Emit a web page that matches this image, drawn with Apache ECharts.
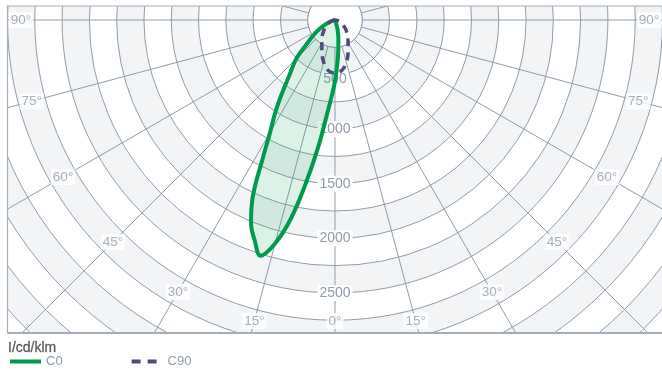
<!DOCTYPE html>
<html><head><meta charset="utf-8">
<script src="https://cdn.jsdelivr.net/npm/echarts@6/dist/echarts.min.js"></script>
<style>html,body{margin:0;padding:0;background:#fff}#c{width:662px;height:372px}</style>
</head><body><div id="c"></div>
<script>
// gamma angle in degrees from nadir; negative = left side
const c0Angles = [25,20,15,10,5,0,-2.5,-5,-7.5,-10,-12.5,-15,-17.5,-20,-22.5,-25,-27.5,-30,-32.5,-35,-40,-45,-50,-55,-60,-65,-70,-80,-90];
const c0Values = [0,20,90,180,320,560,700,880,1170,1500,1860,2120,2264,2150,2010,1780,1440,1190,1030,880,640,500,330,240,165,100,50,10,0];
const c90Angles = [-90,-80,-70,-60,-55,-50,-45,-40,-35,-30,-25,-20,-15,-10,-5,0,5,10,15,20,25,30,35,40,45,50,55,60,70,80,90];
const c90Values = [0,15,45,80,100,125,150,180,205,240,285,345,400,450,478,485,478,450,400,345,285,240,205,180,150,125,100,80,45,15,0];
const radiusLabels = [500,1000,1500,2000,2500];
const angleLabels = [-90,-75,-60,-45,-30,-15,0,15,30,45,60,75,90];

const FONT = 'Liberation Sans, Arial, sans-serif';
const GRID = '#8f9cab';
const TXT = '#8f9cab';
const CX = 335, CY = 20;
const R3000 = 327.5;            // px for 3000 cd/klm
const PX = R3000 / 3000;
const RMAX = 4500;
const STEP = 250;

const labelData = angleLabels.map(a => {
  const rad = a * Math.PI / 180;
  let rPx = 314;
  const maxDy = 301;
  if (rPx * Math.cos(rad) > maxDy) rPx = maxDy / Math.cos(rad);
  return { name: Math.abs(a) + '°', value: [rPx / PX, a] };
});

const chart = echarts.init(document.getElementById('c'));
const angleBase = { type: 'value', min: 0, max: 360, startAngle: 270, clockwise: false,
  axisLine: { show: false }, axisTick: { show: false }, axisLabel: { show: false } };
chart.setOption({
  animation: false,
  textStyle: { fontFamily: FONT },
  polar: [
    { center: [CX, CY], radius: RMAX * PX },
    { center: [CX, CY], radius: RMAX * PX },
    { center: [CX, CY], radius: STEP * PX }
  ],
  angleAxis: [
    Object.assign({}, angleBase, { polarIndex: 0, interval: 15, splitLine: { show: false }, z: 0 }),
    Object.assign({}, angleBase, { polarIndex: 1, interval: 15, z: 1,
      splitLine: { show: true, lineStyle: { color: GRID, width: 1 } } }),
    Object.assign({}, angleBase, { polarIndex: 2, interval: 15, z: 2,
      axisLine: { show: true, lineStyle: { color: GRID, width: 1 } },
      splitLine: { show: false },
      splitArea: { show: true, areaStyle: { color: ['#ffffff'] } } })
  ],
  radiusAxis: [
    { polarIndex: 0, type: 'value', min: 0, max: RMAX, interval: STEP, z: 0,
      axisLine: { show: false }, axisTick: { show: false }, axisLabel: { show: false },
      splitLine: { show: false },
      splitArea: { show: true, areaStyle: { color: ['#ffffff', '#f2f4f6'] } } },
    { polarIndex: 1, type: 'value', min: 0, max: RMAX, interval: STEP, z: 1,
      axisLine: { show: false }, axisTick: { show: false },
      splitLine: { show: true, lineStyle: { color: GRID, width: 1 } },
      splitArea: { show: false },
      axisLabel: { show: true, margin: 0, align: 'center', verticalAlign: 'middle',
        formatter: v => !radiusLabels.includes(v) ? '' :
          (v === radiusLabels[0] ? '{e| }\n{b|' + v + '}' : '{b|' + v + '}'),
        rich: { b: { backgroundColor: '#ffffff', padding: [1, 2], color: TXT, fontSize: 14, fontFamily: FONT },
                e: { fontSize: 1, lineHeight: 10 } } } },
    { polarIndex: 2, type: 'value', min: 0, max: STEP, z: 2,
      axisLine: { show: false }, axisTick: { show: false }, axisLabel: { show: false },
      splitLine: { show: false } }
  ],
  title: { text: 'I/cd/klm', left: 8, top: 341, padding: 0, z: 200,
    textStyle: { fontSize: 14, fontWeight: 'normal', color: '#555', fontFamily: FONT,
      textBorderColor: '#777', textBorderWidth: 0.3 } },
  legend: { data: [{ name: 'C0' }, { name: 'C90', lineStyle: { type: [9, 7] } }],
    left: 8, top: 355, padding: 0, itemWidth: 31, itemHeight: 14, itemGap: 67, z: 200,
    itemStyle: { opacity: 0 }, lineStyle: { width: 4 },
    textStyle: { color: TXT, fontSize: 13, fontFamily: FONT } },
  graphic: { elements: [
    { type: 'rect', shape: { x: 0, y: 0, width: 662, height: 6 }, style: { fill: '#fff' }, z: 100, silent: true },
    { type: 'rect', shape: { x: 0, y: 333, width: 662, height: 39 }, style: { fill: '#fff' }, z: 100, silent: true },
    { type: 'rect', shape: { x: 0, y: 0, width: 7.5, height: 372 }, style: { fill: '#fff' }, z: 100, silent: true },
    { type: 'rect', shape: { x: 7.5, y: 6, width: 662, height: 327 }, style: { fill: 'none', stroke: '#a3adb8', lineWidth: 1.2 }, z: 101, silent: true },
    { type: 'line', shape: { x1: 7.5, y1: 333, x2: 662, y2: 333 }, style: { stroke: '#a3adb8', lineWidth: 2 }, z: 101, silent: true }
  ] },
  series: [
    { type: 'line', name: 'C0', coordinateSystem: 'polar', polarIndex: 1,
      data: c0Angles.map((a, i) => [c0Values[i], a]), smooth: 0.4, symbol: 'none', z: 5,
      lineStyle: { color: '#009a4e', width: 4 }, itemStyle: { color: '#009a4e' },
      areaStyle: { color: 'rgba(0,154,78,0.19)' } },
    { type: 'line', name: 'C90', coordinateSystem: 'polar', polarIndex: 1,
      data: c90Angles.map((a, i) => [c90Values[i], a]), smooth: 0.4, symbol: 'none', z: 5,
      lineStyle: { color: '#514a7c', width: 3.5, type: [8, 6] }, itemStyle: { color: '#514a7c' } },
    { type: 'scatter', name: 'angleLabels', coordinateSystem: 'polar', polarIndex: 1,
      data: labelData, symbolSize: 0, silent: true, z: 6,
      label: { show: true, position: 'inside', formatter: '{b}', color: TXT, fontSize: 13.5, fontFamily: FONT,
        backgroundColor: '#ffffff', padding: [1, 2] } }
  ]
});
</script></body></html>
